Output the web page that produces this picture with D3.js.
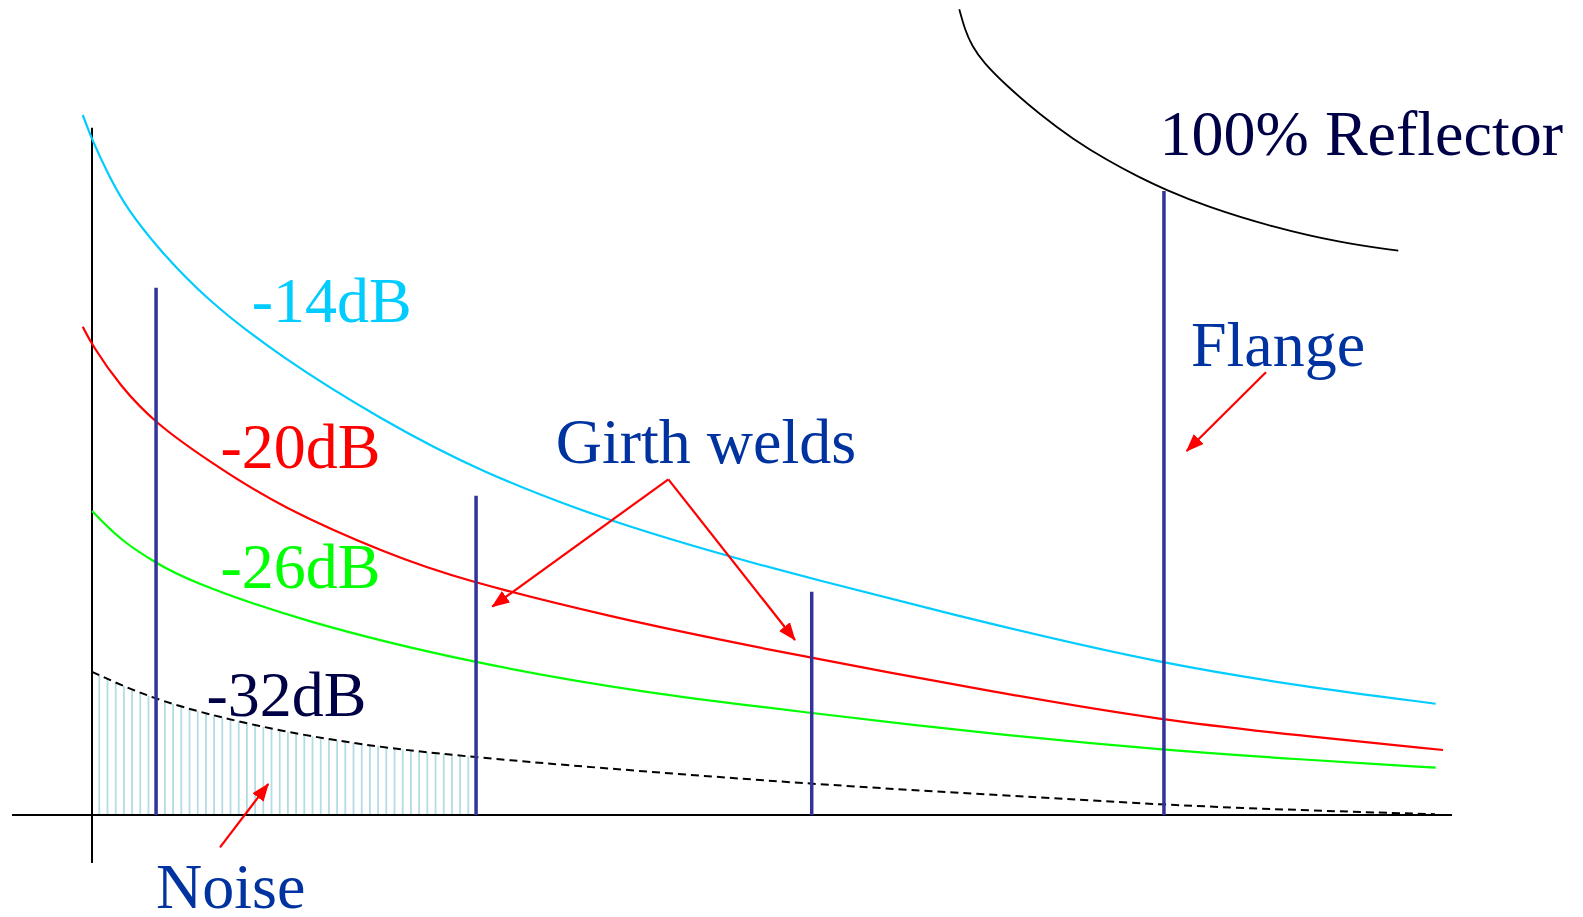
<!DOCTYPE html>
<html>
<head>
<meta charset="utf-8">
<script src="https://cdn.jsdelivr.net/npm/d3@7"></script>
<style>
  html, body { margin: 0; padding: 0; background: #ffffff; }
  svg { display: block; }
</style>
</head>
<body>
<svg id="chart" width="1583" height="917"></svg>
<script>
// ---- Data (distance along pipe in m, amplitude in %) ----
const cyanDist  = [-0.68, 0, 1.32, 2.55, 4.71, 8.18, 13.82, 21.18, 28.53, 38.09, 46.91, 52.06, 66.76, 78.82, 88.82, 98.80];
const cyanAmp   = [87.5, 84.375, 79.625, 75.875, 71.125, 64.75, 57.29, 49.5, 42.875, 36.66, 32.29, 29.91, 23.54, 18.875, 16.125, 13.91];

const redDist   = [-0.68, 0, 2.06, 4.71, 8.68, 13.82, 21.91, 27.06, 38.09, 49.12, 66.76, 78.82, 88.82, 99.34];
const redAmp    = [61.04, 58.75, 53.625, 48.875, 44.125, 38.5, 32.5, 29.46, 24.75, 20.84, 15.21, 11.79, 9.94, 8.125];

const greenDist = [0, 2.06, 4.71, 6.96, 15.29, 28.24, 40.74, 52.06, 66.76, 78.82, 88.82, 98.80];
const greenAmp  = [38.0, 34.375, 31.5, 29.375, 24.25, 18.875, 15.25, 12.91, 10.0, 8.125, 6.94, 5.91];

const noiseDist = [0, 4.76, 12.35, 19.71, 28.24, 52.06, 66.76, 78.82, 88.82, 98.75];
const noiseAmp  = [17.9, 14.2, 10.96, 8.75, 7.1, 3.9, 2.5, 1.25, 0.6, 0.1];

const reflDist  = [63.77, 64.19, 64.71, 65.51, 67.26, 69.71, 72.15, 74.61, 77.06, 78.82, 81.96, 86.86, 91.76, 96.05];
const reflAmp   = [100.71, 98.125, 96.125, 94.125, 91.125, 87.54, 84.46, 81.875, 79.66, 78.25, 76.04, 73.46, 71.54, 70.54];

const weldDist  = [4.71, 28.24, 52.92];
const weldAmp   = [65.9, 39.9, 27.9];
const flangeDist = [78.82];
const flangeAmp  = [78.0];

const noiseEnd = 28.24;          // hatched noise region ends at second weld
const hatchStep = 0.603;         // spacing of noise hatching (m)

const labels = [
  { text: "-14dB",          d: 11.75, a: 61.66,  color: "#00ccff" },
  { text: "-20dB",          d: 9.45,  a: 43.34,  color: "#ff0000" },
  { text: "-26dB",          d: 9.45,  a: 28.34,  color: "#00ff00" },
  { text: "-32dB",          d: 8.42,  a: 12.375, color: "#000046" },
  { text: "Girth welds",    d: 34.1,  a: 43.96,  color: "#0033a0" },
  { text: "Flange",         d: 80.8,  a: 56.125, color: "#0033a0" },
  { text: "Noise",          d: 4.71,  a: -11.6,  color: "#0033a0" },
  { text: "100% Reflector", d: 78.5,  a: 82.5,   color: "#000046" }
];

const arrows = [
  { d0: 42.38, a0: 41.96, d1: 29.43, a1: 26.04 },
  { d0: 42.38, a0: 41.96, d1: 51.69, a1: 21.875 },
  { d0: 86.32, a0: 55.34, d1: 80.49, a1: 45.5 },
  { d0: 9.41,  a0: -4.04, d1: 12.96, a1: 3.875 }
];

const axisX = { d0: -5.88, d1: 100 };   // baseline extent
const axisY = { a0: -6, a1: 85.9 };     // vertical axis extent

// ---- Scales ----
const x = d3.scaleLinear().domain([0, 100]).range([92, 1452]);
const y = d3.scaleLinear().domain([0, 100]).range([815, 15]);

const svg = d3.select("#chart");
const defs = svg.append("defs");

const zip = (ds, as) => ds.map((d, i) => ({ d: d, a: as[i] }));
const line = d3.line().x(p => x(p.d)).y(p => y(p.a)).curve(d3.curveBasis);

// hatch pattern
const step = x(hatchStep) - x(0);
const pat = defs.append("pattern")
  .attr("id", "hatch").attr("patternUnits", "userSpaceOnUse")
  .attr("x", x(0)).attr("y", 0)
  .attr("width", step).attr("height", 20);
pat.append("rect").attr("x", step - 1.8).attr("y", 0).attr("width", 1.8).attr("height", 20)
  .attr("fill", "#b3dde3");

defs.append("clipPath").attr("id", "noiseClip")
  .append("rect").attr("x", x(0) + 1).attr("y", 0)
  .attr("width", x(noiseEnd) - x(0) - 3).attr("height", 917);

defs.append("marker")
  .attr("id", "arrowHead").attr("markerUnits", "userSpaceOnUse")
  .attr("viewBox", "0 0 18 14").attr("markerWidth", 18).attr("markerHeight", 14)
  .attr("refX", 17).attr("refY", 7).attr("orient", "auto")
  .append("path").attr("d", "M0,0 L18,7 L0,14 Z").attr("fill", "#ff0000");

// noise hatching area
const area = d3.area().x(p => x(p.d)).y0(y(0)).y1(p => y(p.a)).curve(d3.curveBasis);
svg.append("path")
  .datum(zip(noiseDist, noiseAmp))
  .attr("d", area)
  .attr("fill", "url(#hatch)")
  .attr("clip-path", "url(#noiseClip)");

// axes
svg.append("line")
  .attr("x1", x(axisX.d0)).attr("x2", x(axisX.d1))
  .attr("y1", y(0)).attr("y2", y(0))
  .attr("stroke", "#000").attr("stroke-width", 2);
svg.append("line")
  .attr("x1", x(0)).attr("x2", x(0))
  .attr("y1", y(axisY.a0)).attr("y2", y(axisY.a1))
  .attr("stroke", "#000").attr("stroke-width", 2);

// curves
const curves = [
  { ds: cyanDist,  as: cyanAmp,  color: "#00ccff", w: 2.2 },
  { ds: redDist,   as: redAmp,   color: "#ff0000", w: 2.2 },
  { ds: greenDist, as: greenAmp, color: "#00ff00", w: 2.2 },
  { ds: reflDist,  as: reflAmp,  color: "#000000", w: 1.8 }
];
curves.forEach(c => {
  svg.append("path").datum(zip(c.ds, c.as)).attr("d", line)
    .attr("fill", "none").attr("stroke", c.color).attr("stroke-width", c.w);
});
svg.append("path").datum(zip(noiseDist, noiseAmp)).attr("d", line)
  .attr("fill", "none").attr("stroke", "#000").attr("stroke-width", 2)
  .attr("stroke-dasharray", "8,5");

// welds and flange
svg.selectAll("line.weld")
  .data(zip(weldDist.concat(flangeDist), weldAmp.concat(flangeAmp)))
  .enter().append("line").attr("class", "weld")
  .attr("x1", p => x(p.d)).attr("x2", p => x(p.d))
  .attr("y1", y(0)).attr("y2", p => y(p.a))
  .attr("stroke", "#333399").attr("stroke-width", 3.5);

// arrows
svg.selectAll("line.arrow").data(arrows).enter().append("line").attr("class", "arrow")
  .attr("x1", p => x(p.d0)).attr("y1", p => y(p.a0))
  .attr("x2", p => x(p.d1)).attr("y2", p => y(p.a1))
  .attr("stroke", "#ff0000").attr("stroke-width", 2.2)
  .attr("marker-end", "url(#arrowHead)");

// labels
svg.selectAll("text.lbl").data(labels).enter().append("text").attr("class", "lbl")
  .attr("x", p => x(p.d)).attr("y", p => y(p.a))
  .attr("fill", p => p.color)
  .style("font-family", "'Liberation Serif', 'Times New Roman', serif")
  .style("font-size", "64px")
  .text(p => p.text);
</script>
</body>
</html>
